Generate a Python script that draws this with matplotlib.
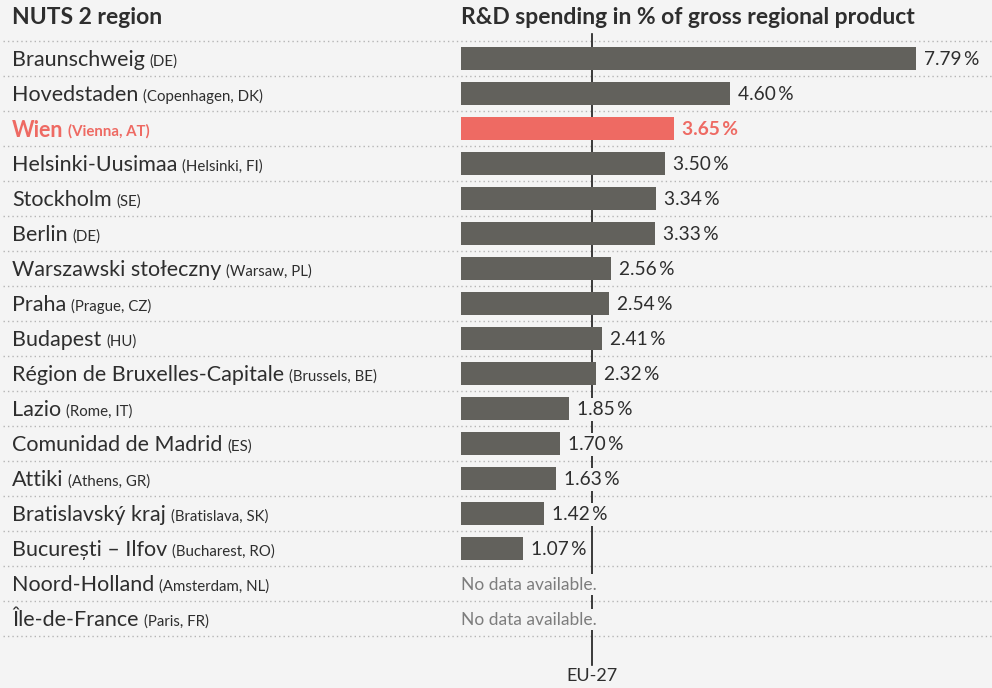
import matplotlib.pyplot as plt
import numpy as np

plt.rcParams['font.family'] = ['Lato', 'DejaVu Sans']

# region names, extra info in brackets, R&D share of GRP (None = no data)
regions = ["Braunschweig", "Hovedstaden", "Wien", "Helsinki-Uusimaa", "Stockholm",
           "Berlin", "Warszawski stołeczny", "Praha", "Budapest",
           "Région de Bruxelles-Capitale", "Lazio", "Comunidad de Madrid", "Attiki",
           "Bratislavský kraj", "București – Ilfov", "Noord-Holland", "Île-de-France"]
details = ["(DE)", "(Copenhagen, DK)", "(Vienna, AT)", "(Helsinki, FI)", "(SE)", "(DE)",
           "(Warsaw, PL)", "(Prague, CZ)", "(HU)", "(Brussels, BE)", "(Rome, IT)", "(ES)",
           "(Athens, GR)", "(Bratislava, SK)", "(Bucharest, RO)", "(Amsterdam, NL)",
           "(Paris, FR)"]
values = [7.79, 4.60, 3.65, 3.50, 3.34, 3.33, 2.56, 2.54, 2.41, 2.32, 1.85, 1.70,
          1.63, 1.42, 1.07, None, None]
highlight = "Wien"
eu27 = 2.24

bg = "#f4f4f4"
dark = "#2e2e2e"
bar_col = "#62615c"
red = "#ee6a63"

W, H = 992, 688
px_per_pct = 58.4
x0 = 461
row0, row_h = 58.5, 35

fig = plt.figure(figsize=(W / 100, H / 100), dpi=100, facecolor=bg)
ax = fig.add_axes([0, 0, 1, 1])
ax.set_facecolor(bg)
ax.set_xlim(-x0 / px_per_pct, (W - x0) / px_per_pct)
ax.set_ylim((H - row0) / row_h, -row0 / row_h)
ax.axis("off")


def px2x(p):
    return (p - x0) / px_per_pct


def py2y(p):
    return (p - row0) / row_h


# headers
ax.text(px2x(12), py2y(18), "NUTS 2 region", fontsize=16.5, fontweight="bold",
        color=dark, va="center", ha="left")
ax.text(0, py2y(18), "R&D spending in % of gross regional product", fontsize=16.5,
        fontweight="bold", color=dark, va="center", ha="left")

# dotted row separators
for k in range(len(regions) + 1):
    ax.plot([px2x(3), px2x(W)], [k - 0.5, k - 0.5], color="#b5b5b5", lw=1,
            linestyle=(0, (1, 2.2)), zorder=1)

# EU-27 reference line
ax.plot([eu27, eu27], [py2y(34), py2y(665)], color="#1a1a1a", lw=1.2, zorder=2)
ax.text(eu27, py2y(676), "EU-27", fontsize=13, color=dark, ha="center", va="center")

label_box = dict(boxstyle="square,pad=0.15", fc=bg, ec="none")

for i, (name, det, v) in enumerate(zip(regions, details, values)):
    hl = name == highlight
    col = red if hl else dark
    fw = "bold" if hl else "normal"
    t = ax.text(px2x(12), i + 0.05, name, fontsize=15.5, color=col, fontweight=fw,
                va="center", ha="left")
    fig.canvas.draw()
    bb = t.get_window_extent()
    ax.text(px2x(bb.x1 + 5), i + 0.08, det, fontsize=10.8, color=col, fontweight=fw,
            va="center", ha="left")
    if v is None:
        ax.text(0, i + 0.03, "No data available.", fontsize=12.5, color="#7d7d7d",
                va="center", ha="left", zorder=4, bbox=label_box)
        continue
    ax.barh(i, v, height=0.66, color=red if hl else bar_col, zorder=3)
    ax.text(v + px2x(x0 + 8), i + 0.03, f"{v:.2f}\u2009%", fontsize=13.8, color=col,
            fontweight=fw, va="center", ha="left", zorder=4, bbox=label_box)

fig.savefig("out.png", dpi=100, facecolor=bg)
